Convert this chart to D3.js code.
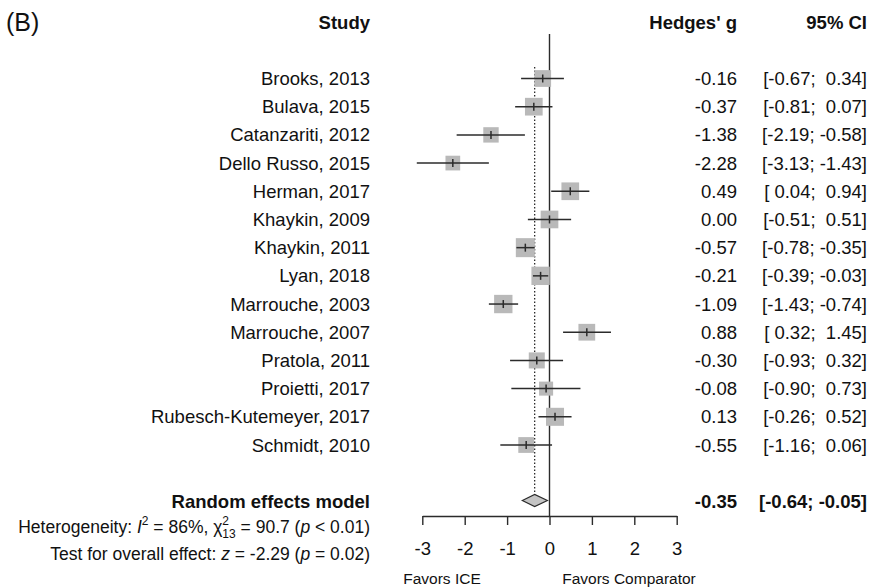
<!DOCTYPE html>
<html>
<head>
<meta charset="utf-8">
<script src="https://cdn.jsdelivr.net/npm/d3@7"></script>
<style>
  body { margin: 0; background: #fff; }
  text { font-family: "Liberation Sans", Arial, sans-serif; fill: #111; }
</style>
</head>
<body>
<svg id="forest"></svg>
<script>
// DATA
const studies = ["Brooks, 2013", "Bulava, 2015", "Catanzariti, 2012", "Dello Russo, 2015", "Herman, 2017",
                 "Khaykin, 2009", "Khaykin, 2011", "Lyan, 2018", "Marrouche, 2003", "Marrouche, 2007",
                 "Pratola, 2011", "Proietti, 2017", "Rubesch-Kutemeyer, 2017", "Schmidt, 2010"];
const hedgesG = [-0.16, -0.37, -1.38, -2.28, 0.49, 0.00, -0.57, -0.21, -1.09, 0.88, -0.30, -0.08, 0.13, -0.55];
const ciLower = [-0.67, -0.81, -2.19, -3.13, 0.04, -0.51, -0.78, -0.39, -1.43, 0.32, -0.93, -0.90, -0.26, -1.16];
const ciUpper = [0.34, 0.07, -0.58, -1.43, 0.94, 0.51, -0.35, -0.03, -0.74, 1.45, 0.32, 0.73, 0.52, 0.06];
const weights = [7.0, 7.8, 5.9, 5.4, 7.8, 7.8, 9.0, 8.4, 8.4, 7.0, 6.4, 4.9, 8.1, 6.2];
const pooled = {g: -0.35, lo: -0.64, hi: -0.05};
const xTicks = [-3, -2, -1, 0, 1, 2, 3];

// SET VARIABLES
const _width = 874, _height = 588;
const _font = 18.5;
const _col = {study: 370, g: 737, ci: 867};
const _color = {square: "#b9b9b9", line: "#2b2b2b", diamond: "#c4c4c4"};

const fmt = d3.format(".2f");
const pad = v => v < 0 ? fmt(v).replace("−", "-") : " " + fmt(v);
const ciText = (lo, hi) => `[${pad(lo)}; ${pad(hi)}]`;

const x = d3.scaleLinear().domain([-3, 3]).range([422.3, 676.7]);
const y = d3.scaleLinear().domain([0, studies.length - 1]).range([78.5, 445]);
const size = d3.scaleSqrt().domain([0, 9]).range([0, 19]);
const yPooled = 500.5, yAxis = 516;

const svg = d3.select("#forest")
              .attr("width", _width)
              .attr("height", _height);

// HEADERS
svg.append("text").attr("x", 6).attr("y", 31).attr("font-size", 25).text("(B)");
const headers = [{t: "Study", x: _col.study}, {t: "Hedges' g", x: _col.g}, {t: "95% CI", x: _col.ci}];
svg.selectAll("text.header")
    .data(headers)
      .enter()
    .append("text")
      .attr("class", "header")
      .attr("x", d => d.x)
      .attr("y", 29)
      .attr("text-anchor", "end")
      .attr("font-weight", "bold")
      .attr("font-size", _font)
      .text(d => d.t);

// REFERENCE LINES
svg.append("line")
    .attr("x1", x(0)).attr("x2", x(0))
    .attr("y1", 34).attr("y2", yAxis)
    .attr("stroke", _color.line).attr("stroke-width", 1.4);
svg.append("line")
    .attr("x1", x(pooled.g)).attr("x2", x(pooled.g))
    .attr("y1", 67).attr("y2", yPooled - 6)
    .attr("stroke", _color.line).attr("stroke-width", 1.3)
    .attr("stroke-dasharray", "1.5,2");

// STUDY ROWS
const rows = svg.append("g").attr("id", "rows")
                .selectAll("g")
                .data(studies.map((s, i) => ({s, g: hedgesG[i], lo: ciLower[i], hi: ciUpper[i], w: weights[i], i})))
                  .enter()
                .append("g");
    rows.append("rect")
          .attr("x", d => x(d.g) - size(d.w) / 2)
          .attr("y", d => y(d.i) - size(d.w) / 2)
          .attr("width", d => size(d.w))
          .attr("height", d => size(d.w))
          .attr("fill", _color.square);
    rows.append("line")
          .attr("x1", d => x(d.lo)).attr("x2", d => x(d.hi))
          .attr("y1", d => y(d.i)).attr("y2", d => y(d.i))
          .attr("stroke", _color.line).attr("stroke-width", 1.5);
    rows.append("line")
          .attr("x1", d => x(d.g)).attr("x2", d => x(d.g))
          .attr("y1", d => y(d.i) - 4).attr("y2", d => y(d.i) + 4)
          .attr("stroke", _color.line).attr("stroke-width", 1.5);
    rows.append("text")
          .attr("x", _col.study).attr("y", d => y(d.i) + 6.5)
          .attr("text-anchor", "end").attr("font-size", _font)
          .text(d => d.s);
    rows.append("text")
          .attr("x", _col.g).attr("y", d => y(d.i) + 6.5)
          .attr("text-anchor", "end").attr("font-size", _font)
          .text(d => fmt(d.g).replace("−", "-"));
    rows.append("text")
          .attr("x", _col.ci).attr("y", d => y(d.i) + 6.5)
          .attr("text-anchor", "end").attr("font-size", _font)
          .style("white-space", "pre")
          .text(d => ciText(d.lo, d.hi));

// POOLED ESTIMATE
svg.append("path")
    .attr("d", `M${x(pooled.lo)},${yPooled} L${x(pooled.g)},${yPooled - 6} L${x(pooled.hi)},${yPooled} L${x(pooled.g)},${yPooled + 6} Z`)
    .attr("fill", _color.diamond)
    .attr("stroke", _color.line).attr("stroke-width", 1.2);
const pooledText = [{t: "Random effects model", x: _col.study}, {t: fmt(pooled.g).replace("−", "-"), x: _col.g}, {t: ciText(pooled.lo, pooled.hi), x: _col.ci}];
svg.selectAll("text.pooled")
    .data(pooledText)
      .enter()
    .append("text")
      .attr("class", "pooled")
      .attr("x", d => d.x).attr("y", yPooled + 7)
      .attr("text-anchor", "end")
      .attr("font-weight", "bold")
      .attr("font-size", _font)
      .style("white-space", "pre")
      .text(d => d.t);

// HETEROGENEITY & TEST
const het = svg.append("text")
                .attr("x", _col.study).attr("y", 533)
                .attr("text-anchor", "end").attr("font-size", 17.5);
    het.append("tspan").text("Heterogeneity: ");
    het.append("tspan").attr("font-style", "italic").text("I");
    het.append("tspan").attr("font-size", 12).attr("dy", -8).text("2");
    het.append("tspan").attr("dy", 8).text(" = 86%, χ");
    het.append("tspan").attr("font-size", 12).attr("dy", -8).text("2");
    het.append("tspan").attr("font-size", 12).attr("dx", -6.7).attr("dy", 13).text("13");
    het.append("tspan").attr("dy", -5).style("white-space", "pre").text(" = 90.7 (");
    het.append("tspan").attr("font-style", "italic").text("p");
    het.append("tspan").style("white-space", "pre").text(" < 0.01)");
const test = svg.append("text")
                .attr("x", _col.study).attr("y", 560)
                .attr("text-anchor", "end").attr("font-size", 17.5);
    test.append("tspan").text("Test for overall effect: ");
    test.append("tspan").attr("font-style", "italic").text("z");
    test.append("tspan").style("white-space", "pre").text(" = -2.29 (");
    test.append("tspan").attr("font-style", "italic").text("p");
    test.append("tspan").style("white-space", "pre").text(" = 0.02)");

// AXIS
const axis = svg.append("g")
                .attr("transform", `translate(0, ${yAxis})`)
                .call(d3.axisBottom(x).tickValues(xTicks).tickSize(9).tickSizeOuter(0).tickPadding(17).tickFormat(d => String(d)));
    axis.select(".domain").attr("stroke", _color.line).attr("stroke-width", 1.4);
    axis.selectAll(".tick line").attr("stroke", _color.line).attr("stroke-width", 1.4);
    axis.selectAll(".tick text").attr("font-size", _font).attr("font-family", "Liberation Sans, Arial, sans-serif").attr("fill", "#111");

svg.append("text")
    .attr("x", 442).attr("y", 584)
    .attr("text-anchor", "middle").attr("font-size", 15.5)
    .text("Favors ICE");
svg.append("text")
    .attr("x", 629).attr("y", 584)
    .attr("text-anchor", "middle").attr("font-size", 15.5)
    .text("Favors Comparator");
</script>
</body>
</html>
